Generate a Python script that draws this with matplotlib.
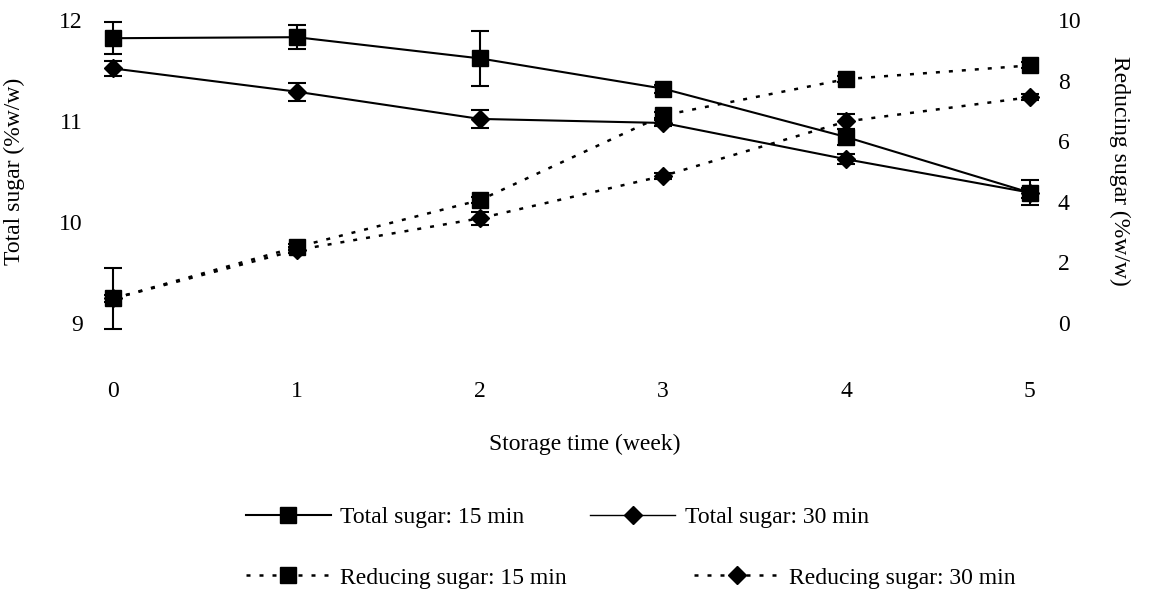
import matplotlib
matplotlib.use("Agg")
import matplotlib.pyplot as plt
from matplotlib.lines import Line2D

plt.rcParams["font.family"] = ["Liberation Serif", "DejaVu Serif"]
plt.rcParams["font.size"] = 17

# Data
weeks = [0, 1, 2, 3, 4, 5]
total_15 = [11.82, 11.83, 11.62, 11.32, 10.84, 10.29]
total_15_err = [0.16, 0.12, 0.27, 0.04, 0.08, 0.12]
total_30 = [11.52, 11.29, 11.02, 10.98, 10.62, 10.29]
total_30_err = [0.07, 0.09, 0.09, 0.03, 0.05, 0.05]
reducing_15 = [0.8, 2.5, 4.05, 6.85, 8.05, 8.5]
reducing_15_err = [1.0, 0.1, 0.1, 0.1, 0.1, 0.1]
reducing_30 = [0.8, 2.4, 3.45, 4.85, 6.65, 7.45]
reducing_30_err = [0.1, 0.1, 0.22, 0.1, 0.25, 0.1]

left_ticks = [9, 10, 11, 12]
right_ticks = [0, 2, 4, 6, 8, 10]

fig = plt.figure(figsize=(11.49, 6.0), dpi=100)
ax = fig.add_axes([0.0827, 0.4117, 0.8294, 0.5717])
ax2 = ax.twinx()

dash = (0, (1.6, 3.6))
err_kw = dict(ecolor="black", elinewidth=1.5, capsize=6.5, capthick=1.5)

# Total sugar (left axis)
ax.errorbar(weeks, total_15, yerr=total_15_err, color="black", lw=1.5,
            marker="s", ms=11, **err_kw)
ax.errorbar(weeks, total_30, yerr=total_30_err, color="black", lw=1.5,
            marker="D", ms=9, **err_kw)

# Reducing sugar (right axis)
ax2.errorbar(weeks, reducing_15, yerr=reducing_15_err, color="black", lw=1.8,
             ls=dash, marker="s", ms=11, **err_kw)
ax2.errorbar(weeks, reducing_30, yerr=reducing_30_err, color="black", lw=1.8,
             ls=dash, marker="D", ms=9, **err_kw)

ax.set_xlim(-0.1, 5.1)
ax.set_ylim(8.7, 12.1)
ax2.set_ylim(-1.0, 10.333)
ax.set_xticks(weeks)
ax.set_yticks(left_ticks)
ax2.set_yticks(right_ticks)

for a in (ax, ax2):
    for s in a.spines.values():
        s.set_visible(False)
ax.tick_params(axis="x", length=0, pad=20, labelsize=17)
ax.tick_params(axis="y", length=0, pad=9, labelsize=17)
ax2.tick_params(axis="y", length=0, pad=7, labelsize=17)

ax.set_xlabel("Storage time (week)", fontsize=17)
ax.xaxis.set_label_coords(0.514, -0.235)
ax.set_ylabel("Total sugar (%w/w)", fontsize=17)
ax.yaxis.set_label_coords(-0.073, 0.53)
ax2.set_ylabel("Reducing sugar (%w/w)", fontsize=17, rotation=270, va="center")
ax2.yaxis.set_label_coords(1.0755, 0.53)

# Legend handles (lines with markers, no error bars)
h1 = Line2D([], [], color="black", lw=1.5, marker="s", ms=11)
h2 = Line2D([], [], color="black", lw=1.0, marker="D", ms=9)
h3 = Line2D([], [], color="black", lw=1.8, ls=dash, marker="s", ms=11)
h4 = Line2D([], [], color="black", lw=1.8, ls=dash, marker="D", ms=9)

# Legend: two rows below the plot
fig.legend([h1, h2], ["Total sugar: 15 min", "Total sugar: 30 min"],
           loc="center left", bbox_to_anchor=(0.2036, 0.138), ncol=2, frameon=False,
           borderpad=0, handlelength=3.6, handletextpad=0.4, columnspacing=2.8, fontsize=17)
fig.legend([h3, h4], ["Reducing sugar: 15 min", "Reducing sugar: 30 min"],
           loc="center left", bbox_to_anchor=(0.2036, 0.037), ncol=2, frameon=False,
           borderpad=0, handlelength=3.6, handletextpad=0.4, columnspacing=5.4, fontsize=17)

plt.savefig("out.png", dpi=100)
